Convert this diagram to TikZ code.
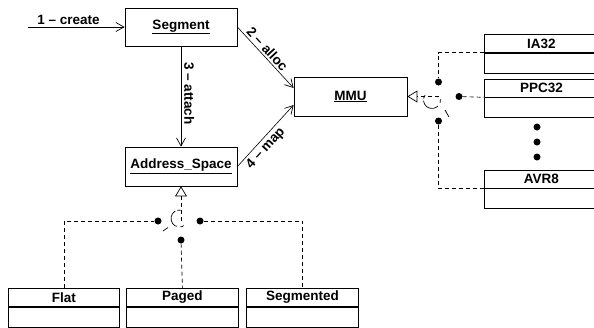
\documentclass[tikz,border=0pt]{standalone}
\usepackage{fontspec}
\setmainfont{Liberation Sans}
\usetikzlibrary{arrows.meta,calc}
\tikzset{
  lbl/.style={font=\bfseries\fontsize{13.5}{15}\selectfont},
  objbox/.style={draw, line width=0.8pt, lbl, inner sep=0pt},
  hdr/.style={draw, line width=0.8pt, lbl, inner sep=0pt, minimum height=18pt, anchor=north west},
  cmp/.style={draw, line width=0.8pt, inner sep=0pt, minimum height=20pt, anchor=north},
  arr/.style={line width=0.6pt, -{Straight Barb[length=8pt,width=9pt,line width=0.7pt]}},
  dsh/.style={line width=0.7pt, dash pattern=on 4pt off 3pt},
  dotn/.style={circle, fill, inner sep=0pt, minimum size=7pt},
  gen/.style={dsh, -{Triangle[open, length=10pt, width=12pt, line width=0.7pt]}},
  arcd/.style={line width=0.7pt, dash pattern=on 3.7pt off 2.2pt on 19.3pt off 3.7pt on 3.7pt off 20pt},
}
\begin{document}
\begin{tikzpicture}[x=1pt, y=-1pt]
\useasboundingbox (0,0) rectangle (594,327);
% object boxes
\node[objbox, minimum width=112pt, minimum height=38pt] (seg) at (181,27) {\underline{Segment}};
\node[objbox, minimum width=112pt, minimum height=39pt] (as) at (181,166.5) {\underline{Address\_Space}};
\node[objbox, minimum width=113pt, minimum height=39pt] (mmu) at (350.5,96.5) {\underline{MMU}};
% associations
\coordinate (cr) at (28,27);
\draw[arr] (cr) -- (seg.west) node[lbl, pos=0.42, above, inner sep=2pt] {1 – create};
\draw[arr] (seg.south) -- (as.north) node[lbl, pos=0.47, rotate=-90, anchor=south, inner sep=3pt] {3 – attach};
\draw[arr] (seg.east) -- ($(mmu.west)+(0,-8.5)$) node[lbl, pos=0.44, sloped, above, inner sep=2pt] {2 – alloc};
\draw[arr] (as.east) -- ($(mmu.west)+(0,8.5)$) node[lbl, pos=0.39, sloped, below, inner sep=2.5pt] {4 – map};
% bottom classes
\node[hdr, minimum width=111pt] (flat) at (8,288) {Flat};
\node[cmp, minimum width=111pt] (flatc) at (flat.south) {};
\node[hdr, minimum width=112pt] (paged) at (126,288) {Paged};
\node[cmp, minimum width=112pt] (pagedc) at (paged.south) {};
\node[hdr, minimum width=112pt] (sgd) at (246,288) {Segmented};
\node[cmp, minimum width=112pt] (sgdc) at (sgd.south) {};
% right classes
\node[hdr, minimum width=114pt] (ia) at (484,34) {IA32};
\node[cmp, minimum width=114pt] (iac) at (ia.south) {};
\node[hdr, minimum width=114pt] (ppc) at (484,78.5) {PPC32};
\node[cmp, minimum width=114pt] (ppcc) at (ppc.south) {};
\node[hdr, minimum width=114pt] (avr) at (484,169.5) {AVR8};
\node[cmp, minimum width=114pt] (avrc) at (avr.south) {};
\node[dotn] (e1) at (537,127) {};
\node[dotn] (e2) at (537,142) {};
\node[dotn] (e3) at (537,157) {};
% bottom generalization
\coordinate (jb) at (181,221);
\node[dotn] (dl) at (158,221) {};
\node[dotn] (dr) at (200,221) {};
\node[dotn] (dp) at (181,240) {};
\draw[gen] (jb) -- (as.south);
\draw[dsh] (flat.north) |- (dl);
\draw[dsh] (dr) -| (sgd.north);
\draw[dsh] (dp) -- (paged.north);
\draw[arcd] ($(179.5,218.5)+(280:8.5)$) arc[start angle=280, end angle=55, radius=8.5];
\draw[line width=0.7pt] (163,231) -- (168,227.5);
% right generalization
\coordinate (jr) at (438.5,96.5);
\node[dotn] (da) at (438.5,82) {};
\node[dotn] (dc) at (438.5,121) {};
\node[dotn] (db) at (459,96.5) {};
\draw[gen] (jr) -- (mmu.east);
\draw[dsh] (ia.south west) -| (da);
\draw[dsh] (dc) |- (avr.south west);
\draw[dsh] (db) -- (ppc.south west);
\draw[arcd] ($(432,100)+(215:8.5)$) arc[start angle=215, end angle=-10, radius=8.5];
\draw[line width=0.7pt] (445,110) -- (449,117);
\end{tikzpicture}
\end{document}
